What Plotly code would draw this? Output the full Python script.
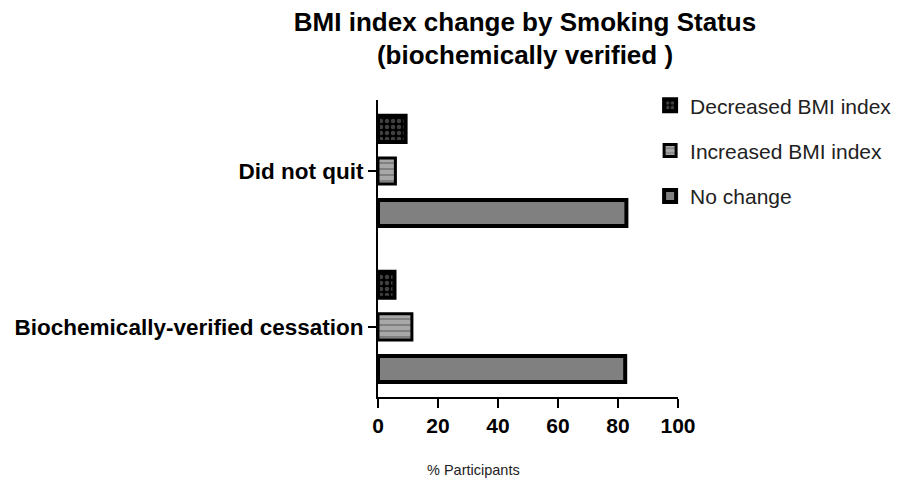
import plotly.graph_objects as go

categories = ["Biochemically-verified cessation", "Did not quit"]
decreased = [5.5, 9.2]
increased = [11.3, 5.8]
no_change = [82.4, 82.8]
x_ticks = [0, 20, 40, 60, 80, 100]

FONT = "Liberation Sans, Arial, sans-serif"

fig = go.Figure()
fig.add_trace(go.Bar(
    y=categories, x=no_change, orientation="h", name="No change",
    legendgroup="c", legendrank=3,
    marker=dict(color="#808080", line=dict(color="black", width=4)),
))
fig.add_trace(go.Bar(
    y=categories, x=increased, orientation="h", name="Increased BMI index",
    legendgroup="b", legendrank=2,
    marker=dict(color="#a8a8a8", line=dict(color="black", width=3),
                pattern=dict(shape="-", fgcolor="#505050", bgcolor="#a8a8a8", size=6, solidity=0.3)),
))
fig.add_trace(go.Bar(
    y=categories, x=decreased, orientation="h", name="Decreased BMI index",
    legendgroup="a", legendrank=1,
    marker=dict(color="black", line=dict(color="black", width=4),
                pattern=dict(shape=".", fgcolor="#808080", bgcolor="black", size=6, solidity=0.45)),
))

fig.update_layout(
    width=904, height=481,
    margin=dict(l=370, r=234, t=92, b=92),
    paper_bgcolor="white", plot_bgcolor="white",
    font=dict(family=FONT, color="black"),
    title=dict(text="BMI index change by Smoking Status<br>(biochemically verified )",
               xref="paper", x=0.49, xanchor="center",
               yref="container", y=0.9532, yanchor="middle",
               font=dict(size=26, color="black", weight="bold")),
    barmode="group", bargap=0.19, bargroupgap=0.38,
    showlegend=True,
    legend=dict(x=0.907, xanchor="left", y=1.05, yanchor="top",
                traceorder="grouped", tracegroupgap=15,
                font=dict(size=21, color="#222"), bgcolor="rgba(0,0,0,0)"),
    xaxis=dict(range=[0, 100], tickvals=x_ticks, showgrid=False, zeroline=False,
               automargin=False,
               showline=True, linecolor="black", linewidth=2,
               ticks="outside", ticklen=9, tickwidth=2, tickcolor="black",
               tickfont=dict(size=21, color="black", weight="bold")),
    yaxis=dict(range=[-0.45, 1.455], showgrid=False, zeroline=False,
               automargin=False,
               showline=True, linecolor="black", linewidth=2,
               ticks="outside", ticklen=8, tickwidth=1.5, tickcolor="black",
               tickfont=dict(size=22.5, color="black", weight="bold")),
    annotations=[dict(text="% Participants", xref="paper", yref="paper",
                      x=0.317, y=-0.246, xanchor="center", yanchor="middle",
                      showarrow=False, font=dict(size=14.5, color="#222"))],
)

fig.write_html("out.html")
